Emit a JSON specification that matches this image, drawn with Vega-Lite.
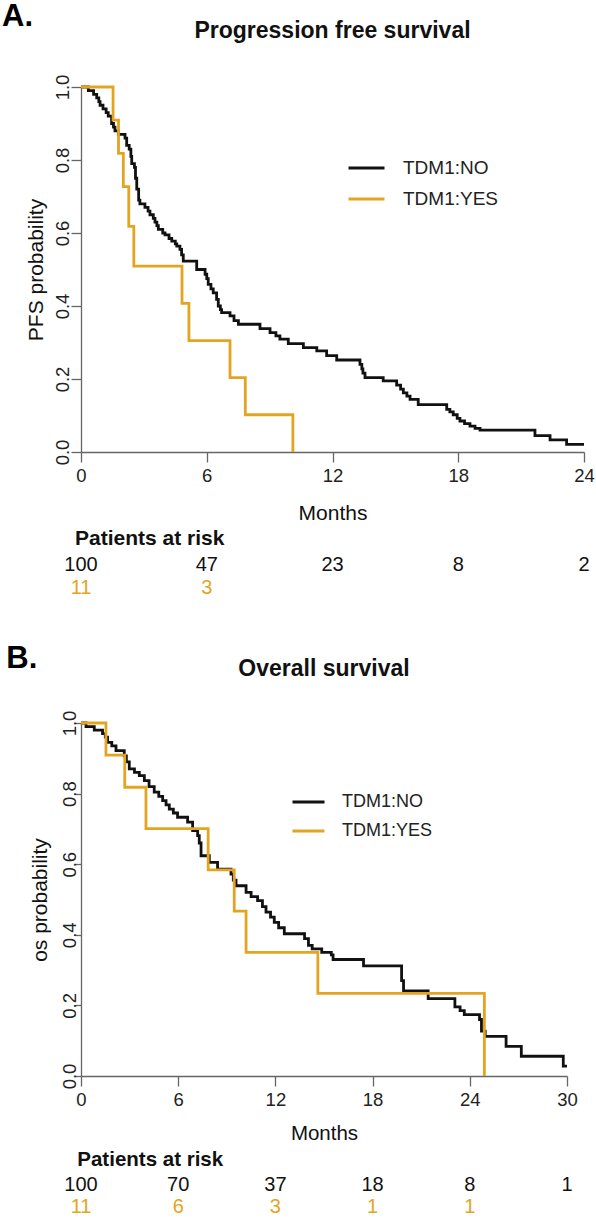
{
  "$schema": "https://vega.github.io/schema/vega-lite/v6.json",
  "padding": {"left": 2, "top": 0, "right": 0, "bottom": 0},
  "config": {
    "view": {"stroke": null},
    "font": "Liberation Sans",
    "axis": {"grid": false, "domainColor": "#666", "tickColor": "#666", "domainWidth": 1.3, "tickWidth": 1.3, "labelColor": "#222", "titleColor": "#111", "titleFontWeight": "normal", "labelFlush": false, "labelOverlap": false}
  },
  "datasets": {
    "pfs": [
      {"group": "TDM1:NO", "months": 0, "survival": 1.0},
      {"group": "TDM1:NO", "months": 0.35, "survival": 0.99},
      {"group": "TDM1:NO", "months": 0.6, "survival": 0.98},
      {"group": "TDM1:NO", "months": 0.75, "survival": 0.97},
      {"group": "TDM1:NO", "months": 0.85, "survival": 0.96},
      {"group": "TDM1:NO", "months": 0.91, "survival": 0.95},
      {"group": "TDM1:NO", "months": 1.05, "survival": 0.94},
      {"group": "TDM1:NO", "months": 1.2, "survival": 0.93},
      {"group": "TDM1:NO", "months": 1.3, "survival": 0.92},
      {"group": "TDM1:NO", "months": 1.46, "survival": 0.9},
      {"group": "TDM1:NO", "months": 1.55, "survival": 0.89},
      {"group": "TDM1:NO", "months": 1.62, "survival": 0.88},
      {"group": "TDM1:NO", "months": 1.78, "survival": 0.87},
      {"group": "TDM1:NO", "months": 2.1, "survival": 0.86},
      {"group": "TDM1:NO", "months": 2.18, "survival": 0.84},
      {"group": "TDM1:NO", "months": 2.3, "survival": 0.83},
      {"group": "TDM1:NO", "months": 2.38, "survival": 0.81},
      {"group": "TDM1:NO", "months": 2.42, "survival": 0.79},
      {"group": "TDM1:NO", "months": 2.55, "survival": 0.78},
      {"group": "TDM1:NO", "months": 2.6, "survival": 0.75},
      {"group": "TDM1:NO", "months": 2.66, "survival": 0.72},
      {"group": "TDM1:NO", "months": 2.75, "survival": 0.69},
      {"group": "TDM1:NO", "months": 2.81, "survival": 0.68},
      {"group": "TDM1:NO", "months": 3.05, "survival": 0.67},
      {"group": "TDM1:NO", "months": 3.2, "survival": 0.66},
      {"group": "TDM1:NO", "months": 3.29, "survival": 0.65},
      {"group": "TDM1:NO", "months": 3.45, "survival": 0.64},
      {"group": "TDM1:NO", "months": 3.53, "survival": 0.63},
      {"group": "TDM1:NO", "months": 3.62, "survival": 0.62},
      {"group": "TDM1:NO", "months": 3.69, "survival": 0.61},
      {"group": "TDM1:NO", "months": 3.9, "survival": 0.6},
      {"group": "TDM1:NO", "months": 4.01, "survival": 0.595},
      {"group": "TDM1:NO", "months": 4.2, "survival": 0.585},
      {"group": "TDM1:NO", "months": 4.33, "survival": 0.578},
      {"group": "TDM1:NO", "months": 4.5, "survival": 0.57},
      {"group": "TDM1:NO", "months": 4.57, "survival": 0.564},
      {"group": "TDM1:NO", "months": 4.72, "survival": 0.555},
      {"group": "TDM1:NO", "months": 4.8, "survival": 0.54},
      {"group": "TDM1:NO", "months": 4.88, "survival": 0.523},
      {"group": "TDM1:NO", "months": 5.52, "survival": 0.5},
      {"group": "TDM1:NO", "months": 5.92, "survival": 0.487},
      {"group": "TDM1:NO", "months": 6.0, "survival": 0.475},
      {"group": "TDM1:NO", "months": 6.07, "survival": 0.459},
      {"group": "TDM1:NO", "months": 6.2, "survival": 0.447},
      {"group": "TDM1:NO", "months": 6.31, "survival": 0.436},
      {"group": "TDM1:NO", "months": 6.47, "survival": 0.418},
      {"group": "TDM1:NO", "months": 6.55, "survival": 0.4},
      {"group": "TDM1:NO", "months": 6.65, "survival": 0.39},
      {"group": "TDM1:NO", "months": 6.71, "survival": 0.382},
      {"group": "TDM1:NO", "months": 7.11, "survival": 0.373},
      {"group": "TDM1:NO", "months": 7.3, "survival": 0.36},
      {"group": "TDM1:NO", "months": 7.51, "survival": 0.35},
      {"group": "TDM1:NO", "months": 8.54, "survival": 0.338},
      {"group": "TDM1:NO", "months": 9.02, "survival": 0.327},
      {"group": "TDM1:NO", "months": 9.3, "survival": 0.318},
      {"group": "TDM1:NO", "months": 9.49, "survival": 0.309},
      {"group": "TDM1:NO", "months": 9.89, "survival": 0.297},
      {"group": "TDM1:NO", "months": 10.61, "survival": 0.286},
      {"group": "TDM1:NO", "months": 11.25, "survival": 0.277},
      {"group": "TDM1:NO", "months": 11.72, "survival": 0.264},
      {"group": "TDM1:NO", "months": 12.2, "survival": 0.252},
      {"group": "TDM1:NO", "months": 13.31, "survival": 0.24},
      {"group": "TDM1:NO", "months": 13.4, "survival": 0.228},
      {"group": "TDM1:NO", "months": 13.45, "survival": 0.216},
      {"group": "TDM1:NO", "months": 13.55, "survival": 0.204},
      {"group": "TDM1:NO", "months": 14.42, "survival": 0.195},
      {"group": "TDM1:NO", "months": 15.06, "survival": 0.183},
      {"group": "TDM1:NO", "months": 15.25, "survival": 0.172},
      {"group": "TDM1:NO", "months": 15.38, "survival": 0.162},
      {"group": "TDM1:NO", "months": 15.55, "survival": 0.153},
      {"group": "TDM1:NO", "months": 15.7, "survival": 0.144},
      {"group": "TDM1:NO", "months": 16.09, "survival": 0.13},
      {"group": "TDM1:NO", "months": 17.45, "survival": 0.117},
      {"group": "TDM1:NO", "months": 17.6, "survival": 0.11},
      {"group": "TDM1:NO", "months": 17.76, "survival": 0.102},
      {"group": "TDM1:NO", "months": 17.95, "survival": 0.092},
      {"group": "TDM1:NO", "months": 18.08, "survival": 0.085},
      {"group": "TDM1:NO", "months": 18.3, "survival": 0.078},
      {"group": "TDM1:NO", "months": 18.56, "survival": 0.071},
      {"group": "TDM1:NO", "months": 18.8, "survival": 0.065},
      {"group": "TDM1:NO", "months": 19.04, "survival": 0.06},
      {"group": "TDM1:NO", "months": 21.66, "survival": 0.045},
      {"group": "TDM1:NO", "months": 22.38, "survival": 0.033},
      {"group": "TDM1:NO", "months": 23.17, "survival": 0.021},
      {"group": "TDM1:NO", "months": 24.0, "survival": 0.021},
      {"group": "TDM1:YES", "months": 0, "survival": 1.0},
      {"group": "TDM1:YES", "months": 1.53, "survival": 0.909},
      {"group": "TDM1:YES", "months": 1.79, "survival": 0.818},
      {"group": "TDM1:YES", "months": 2.02, "survival": 0.727},
      {"group": "TDM1:YES", "months": 2.28, "survival": 0.618},
      {"group": "TDM1:YES", "months": 2.52, "survival": 0.509},
      {"group": "TDM1:YES", "months": 4.82, "survival": 0.407},
      {"group": "TDM1:YES", "months": 5.15, "survival": 0.305},
      {"group": "TDM1:YES", "months": 7.11, "survival": 0.204},
      {"group": "TDM1:YES", "months": 7.84, "survival": 0.102},
      {"group": "TDM1:YES", "months": 10.11, "survival": 0.0}
    ],
    "os": [
      {"group": "TDM1:NO", "months": 0, "survival": 1.0},
      {"group": "TDM1:NO", "months": 0.31, "survival": 0.99},
      {"group": "TDM1:NO", "months": 0.82, "survival": 0.98},
      {"group": "TDM1:NO", "months": 1.33, "survival": 0.97},
      {"group": "TDM1:NO", "months": 1.5, "survival": 0.96},
      {"group": "TDM1:NO", "months": 1.64, "survival": 0.945},
      {"group": "TDM1:NO", "months": 1.9, "survival": 0.935},
      {"group": "TDM1:NO", "months": 2.16, "survival": 0.922},
      {"group": "TDM1:NO", "months": 2.67, "survival": 0.907},
      {"group": "TDM1:NO", "months": 2.8, "survival": 0.89},
      {"group": "TDM1:NO", "months": 2.98, "survival": 0.87},
      {"group": "TDM1:NO", "months": 3.3, "survival": 0.86},
      {"group": "TDM1:NO", "months": 3.6, "survival": 0.851},
      {"group": "TDM1:NO", "months": 3.91, "survival": 0.837},
      {"group": "TDM1:NO", "months": 4.2, "survival": 0.82},
      {"group": "TDM1:NO", "months": 4.52, "survival": 0.804},
      {"group": "TDM1:NO", "months": 4.8, "survival": 0.792},
      {"group": "TDM1:NO", "months": 5.04, "survival": 0.78},
      {"group": "TDM1:NO", "months": 5.25, "survival": 0.768},
      {"group": "TDM1:NO", "months": 5.45, "survival": 0.756},
      {"group": "TDM1:NO", "months": 5.7, "survival": 0.745},
      {"group": "TDM1:NO", "months": 5.96, "survival": 0.733},
      {"group": "TDM1:NO", "months": 6.58, "survival": 0.719},
      {"group": "TDM1:NO", "months": 6.89, "survival": 0.695},
      {"group": "TDM1:NO", "months": 7.2, "survival": 0.681},
      {"group": "TDM1:NO", "months": 7.3, "survival": 0.66},
      {"group": "TDM1:NO", "months": 7.41, "survival": 0.624},
      {"group": "TDM1:NO", "months": 7.92, "survival": 0.605},
      {"group": "TDM1:NO", "months": 8.43, "survival": 0.586},
      {"group": "TDM1:NO", "months": 9.26, "survival": 0.572},
      {"group": "TDM1:NO", "months": 9.4, "survival": 0.555},
      {"group": "TDM1:NO", "months": 9.57, "survival": 0.539},
      {"group": "TDM1:NO", "months": 10.19, "survival": 0.52},
      {"group": "TDM1:NO", "months": 10.5, "survival": 0.508},
      {"group": "TDM1:NO", "months": 10.9, "survival": 0.497},
      {"group": "TDM1:NO", "months": 11.2, "survival": 0.48},
      {"group": "TDM1:NO", "months": 11.42, "survival": 0.464},
      {"group": "TDM1:NO", "months": 11.7, "survival": 0.45},
      {"group": "TDM1:NO", "months": 11.93, "survival": 0.435},
      {"group": "TDM1:NO", "months": 12.2, "survival": 0.42},
      {"group": "TDM1:NO", "months": 12.55, "survival": 0.403},
      {"group": "TDM1:NO", "months": 13.8, "survival": 0.389},
      {"group": "TDM1:NO", "months": 14.04, "survival": 0.37},
      {"group": "TDM1:NO", "months": 14.27, "survival": 0.36},
      {"group": "TDM1:NO", "months": 14.86, "survival": 0.35},
      {"group": "TDM1:NO", "months": 15.45, "survival": 0.343},
      {"group": "TDM1:NO", "months": 15.56, "survival": 0.33},
      {"group": "TDM1:NO", "months": 17.44, "survival": 0.312},
      {"group": "TDM1:NO", "months": 19.79, "survival": 0.27},
      {"group": "TDM1:NO", "months": 19.91, "survival": 0.241},
      {"group": "TDM1:NO", "months": 21.43, "survival": 0.219},
      {"group": "TDM1:NO", "months": 23.08, "survival": 0.196},
      {"group": "TDM1:NO", "months": 23.4, "survival": 0.185},
      {"group": "TDM1:NO", "months": 23.66, "survival": 0.174},
      {"group": "TDM1:NO", "months": 24.6, "survival": 0.16},
      {"group": "TDM1:NO", "months": 24.72, "survival": 0.127},
      {"group": "TDM1:NO", "months": 24.95, "survival": 0.112},
      {"group": "TDM1:NO", "months": 26.24, "survival": 0.084},
      {"group": "TDM1:NO", "months": 27.18, "survival": 0.056},
      {"group": "TDM1:NO", "months": 29.77, "survival": 0.028},
      {"group": "TDM1:NO", "months": 30.0, "survival": 0.028},
      {"group": "TDM1:YES", "months": 0, "survival": 1.0},
      {"group": "TDM1:YES", "months": 1.54, "survival": 0.909},
      {"group": "TDM1:YES", "months": 2.7, "survival": 0.818},
      {"group": "TDM1:YES", "months": 4.01, "survival": 0.701},
      {"group": "TDM1:YES", "months": 7.85, "survival": 0.584},
      {"group": "TDM1:YES", "months": 9.46, "survival": 0.467},
      {"group": "TDM1:YES", "months": 10.19, "survival": 0.35},
      {"group": "TDM1:YES", "months": 14.62, "survival": 0.234},
      {"group": "TDM1:YES", "months": 24.9, "survival": 0.0}
    ],
    "pfsRisk": [
      {"group": "TDM1:NO", "months": 0, "n": 100},
      {"group": "TDM1:NO", "months": 6, "n": 47},
      {"group": "TDM1:NO", "months": 12, "n": 23},
      {"group": "TDM1:NO", "months": 18, "n": 8},
      {"group": "TDM1:NO", "months": 24, "n": 2},
      {"group": "TDM1:YES", "months": 0, "n": 11},
      {"group": "TDM1:YES", "months": 6, "n": 3}
    ],
    "osRisk": [
      {"group": "TDM1:NO", "months": 0, "n": 100},
      {"group": "TDM1:NO", "months": 6, "n": 70},
      {"group": "TDM1:NO", "months": 12, "n": 37},
      {"group": "TDM1:NO", "months": 18, "n": 18},
      {"group": "TDM1:NO", "months": 24, "n": 8},
      {"group": "TDM1:NO", "months": 30, "n": 1},
      {"group": "TDM1:YES", "months": 0, "n": 11},
      {"group": "TDM1:YES", "months": 6, "n": 6},
      {"group": "TDM1:YES", "months": 12, "n": 3},
      {"group": "TDM1:YES", "months": 18, "n": 1},
      {"group": "TDM1:YES", "months": 24, "n": 1}
    ]
  },
  "bounds": "full",
  "spacing": 43,
  "resolve": {"scale": {"color": "independent"}, "legend": {"color": "independent"}},
  "vconcat": [
    {
      "title": {"text": "A.", "anchor": "start", "frame": "group", "fontSize": 31, "fontWeight": "bold", "baseline": "alphabetic", "offset": -36.6, "dx": -79, "color": "#000"},
      "bounds": "flush",
      "spacing": 102,
      "resolve": {"scale": {"color": "independent"}, "legend": {"color": "independent"}},
      "vconcat": [
        {
          "width": 503,
          "height": 365,
          "title": {"text": "Progression free survival", "anchor": "middle", "fontSize": 23, "fontWeight": "bold", "baseline": "alphabetic", "offset": 13, "color": "#111"},
          "data": {"name": "pfs"},
          "mark": {"type": "line", "interpolate": "step-after", "strokeWidth": 2.8},
          "encoding": {
            "x": {"field": "months", "type": "quantitative", "scale": {"domain": [0, 24], "nice": false, "zero": false},
                  "axis": {"values": [0, 6, 12, 18, 24], "format": "d", "title": "Months", "titleFontSize": 21, "titlePadding": 17.8, "labelFontSize": 18.5, "labelPadding": 4, "tickSize": 10}},
            "y": {"field": "survival", "type": "quantitative", "scale": {"domain": [0, 1], "nice": false},
                  "axis": {"values": [0, 0.2, 0.4, 0.6, 0.8, 1.0], "format": ".1f", "title": "PFS probability", "titleFontSize": 21, "titlePadding": 7, "labelFontSize": 18.5, "labelAngle": -90, "labelAlign": "center", "labelBaseline": "alphabetic", "labelPadding": 3, "tickSize": 10}},
            "color": {"field": "group", "type": "nominal", "scale": {"domain": ["TDM1:NO", "TDM1:YES"], "range": ["#111111", "#E3A521"]},
                      "legend": {"title": null, "orient": "none", "legendX": 266, "legendY": 65.5, "symbolType": "stroke", "symbolSize": 1296, "symbolStrokeWidth": 3, "clipHeight": 31, "rowPadding": 0, "labelOffset": 17, "labelFontSize": 19, "labelColor": "#222", "padding": 0}}
          }
        },
        {
          "width": 503,
          "height": 45,
          "title": {"text": "Patients at risk", "anchor": "start", "frame": "group", "fontSize": 21, "fontWeight": "bold", "baseline": "alphabetic", "offset": -12.4, "dx": -6, "color": "#111"},
          "data": {"name": "pfsRisk"},
          "mark": {"type": "text", "fontSize": 20, "baseline": "middle", "align": "center"},
          "encoding": {
            "x": {"field": "months", "type": "quantitative", "scale": {"domain": [0, 24], "nice": false, "zero": false}, "axis": null},
            "y": {"field": "group", "type": "nominal", "scale": {"type": "point", "padding": 0.5, "domain": ["TDM1:NO", "TDM1:YES"]}, "axis": null},
            "text": {"field": "n", "type": "quantitative"},
            "color": {"field": "group", "type": "nominal", "scale": {"domain": ["TDM1:NO", "TDM1:YES"], "range": ["#111111", "#E3A521"]}, "legend": null}
          }
        }
      ]
    },
    {
      "title": {"text": "B.", "anchor": "start", "frame": "group", "fontSize": 31, "fontWeight": "bold", "baseline": "alphabetic", "offset": -40.9, "dx": -74.7, "color": "#000"},
      "bounds": "flush",
      "spacing": 97.5,
      "resolve": {"scale": {"color": "independent"}, "legend": {"color": "independent"}},
      "vconcat": [
        {
          "width": 486,
          "height": 353,
          "title": {"text": "Overall survival", "anchor": "middle", "fontSize": 23, "fontWeight": "bold", "baseline": "alphabetic", "offset": 11.3, "color": "#111"},
          "data": {"name": "os"},
          "mark": {"type": "line", "interpolate": "step-after", "strokeWidth": 2.8},
          "encoding": {
            "x": {"field": "months", "type": "quantitative", "scale": {"domain": [0, 30], "nice": false, "zero": false},
                  "axis": {"values": [0, 6, 12, 18, 24, 30], "format": "d", "title": "Months", "titleFontSize": 20.5, "titlePadding": 14.5, "labelFontSize": 18.5, "labelPadding": 4, "tickSize": 10}},
            "y": {"field": "survival", "type": "quantitative", "scale": {"domain": [0, 1], "nice": false},
                  "axis": {"values": [0, 0.2, 0.4, 0.6, 0.8, 1.0], "format": ".1f", "title": "os probability", "titleFontSize": 21, "titlePadding": 10, "labelFontSize": 18.5, "labelAngle": -90, "labelAlign": "center", "labelBaseline": "alphabetic", "labelPadding": 0, "tickSize": 6}},
            "color": {"field": "group", "type": "nominal", "scale": {"domain": ["TDM1:NO", "TDM1:YES"], "range": ["#111111", "#E3A521"]},
                      "legend": {"title": null, "orient": "none", "legendX": 210, "legendY": 64.5, "symbolType": "stroke", "symbolSize": 1024, "symbolStrokeWidth": 3, "clipHeight": 29, "rowPadding": 0, "labelOffset": 16, "labelFontSize": 18, "labelColor": "#222", "padding": 0}}
          }
        },
        {
          "width": 486,
          "height": 44,
          "title": {"text": "Patients at risk", "anchor": "start", "frame": "group", "fontSize": 20.5, "fontWeight": "bold", "baseline": "alphabetic", "offset": -12.7, "dx": -3.7, "color": "#111"},
          "data": {"name": "osRisk"},
          "mark": {"type": "text", "fontSize": 20, "baseline": "middle", "align": "center"},
          "encoding": {
            "x": {"field": "months", "type": "quantitative", "scale": {"domain": [0, 30], "nice": false, "zero": false}, "axis": null},
            "y": {"field": "group", "type": "nominal", "scale": {"type": "point", "padding": 0.5, "domain": ["TDM1:NO", "TDM1:YES"]}, "axis": null},
            "text": {"field": "n", "type": "quantitative"},
            "color": {"field": "group", "type": "nominal", "scale": {"domain": ["TDM1:NO", "TDM1:YES"], "range": ["#111111", "#E3A521"]}, "legend": null}
          }
        }
      ]
    }
  ]
}
